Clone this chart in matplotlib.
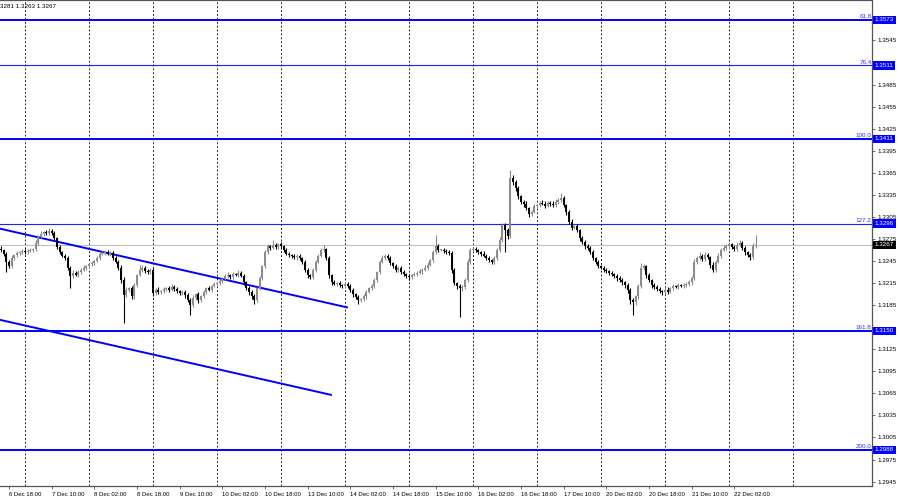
import numpy as np
import matplotlib.pyplot as plt
from matplotlib.transforms import blended_transform_factory

plt.rcParams['font.family'] = ['Liberation Sans', 'DejaVu Sans']

# hourly closes, 6 Dec 15:00 .. 22 Dec 10:00 (weekend hours skipped)
closes = [
    1.3260, 1.3255, 1.3244, 1.3238, 1.3249, 1.3253, 1.3256, 1.3257, 1.3259, 1.3257,
    1.3259, 1.3260, 1.3261, 1.3270, 1.3278, 1.3282, 1.3284, 1.3283, 1.3286, 1.3283,
    1.3276, 1.3264, 1.3257, 1.3252, 1.3249, 1.3236, 1.3225, 1.3229, 1.3226, 1.3230,
    1.3233, 1.3236, 1.3238, 1.3241, 1.3242, 1.3245, 1.3249, 1.3255, 1.3256, 1.3257,
    1.3255, 1.3256, 1.3249, 1.3244, 1.3236, 1.3219, 1.3199, 1.3206, 1.3208, 1.3197,
    1.3212, 1.3226, 1.3233, 1.3236, 1.3231, 1.3230, 1.3233, 1.3202, 1.3206, 1.3203,
    1.3204, 1.3207, 1.3208, 1.3206, 1.3210, 1.3207, 1.3204, 1.3202, 1.3203, 1.3199,
    1.3192, 1.3185, 1.3195, 1.3200, 1.3192, 1.3197, 1.3203, 1.3208, 1.3206, 1.3211,
    1.3214, 1.3215, 1.3218, 1.3221, 1.3225, 1.3226, 1.3223, 1.3227, 1.3226, 1.3229,
    1.3225, 1.3216, 1.3208, 1.3203, 1.3197, 1.3192, 1.3208, 1.3222, 1.3238, 1.3257,
    1.3265, 1.3263, 1.3267, 1.3264, 1.3268, 1.3265, 1.3260, 1.3255, 1.3253, 1.3252,
    1.3250, 1.3252, 1.3249, 1.3244, 1.3233, 1.3226, 1.3223, 1.3233, 1.3244, 1.3252,
    1.3260, 1.3261, 1.3249, 1.3226, 1.3216, 1.3214, 1.3215, 1.3212, 1.3211, 1.3214,
    1.3211, 1.3206, 1.3200, 1.3196, 1.3192, 1.3193, 1.3197, 1.3203, 1.3208, 1.3211,
    1.3219, 1.3230, 1.3244, 1.3249, 1.3252, 1.3249, 1.3242, 1.3238, 1.3233, 1.3236,
    1.3230, 1.3227, 1.3225, 1.3223, 1.3226, 1.3227, 1.3229, 1.3231, 1.3233, 1.3236,
    1.3240, 1.3246, 1.3257, 1.3265, 1.3260, 1.3260, 1.3259, 1.3257, 1.3256, 1.3233,
    1.3215, 1.3211, 1.3208, 1.3210, 1.3219, 1.3244, 1.3260, 1.3261, 1.3260, 1.3257,
    1.3255, 1.3252, 1.3249, 1.3246, 1.3244, 1.3249, 1.3260, 1.3274, 1.3294, 1.3287,
    1.3279, 1.3358, 1.3352, 1.3344, 1.3333, 1.3325, 1.3323, 1.3317, 1.3309, 1.3312,
    1.3320, 1.3321, 1.3324, 1.3323, 1.3320, 1.3324, 1.3323, 1.3321, 1.3325, 1.3328,
    1.3331, 1.3321, 1.3312, 1.3298, 1.3290, 1.3293, 1.3287, 1.3276, 1.3271, 1.3265,
    1.3263, 1.3257, 1.3249, 1.3244, 1.3238, 1.3236, 1.3233, 1.3231, 1.3229, 1.3227,
    1.3225, 1.3222, 1.3219, 1.3216, 1.3212, 1.3206, 1.3192, 1.3189, 1.3197, 1.3211,
    1.3236, 1.3238, 1.3226, 1.3219, 1.3212, 1.3210, 1.3207, 1.3204, 1.3203, 1.3206,
    1.3203, 1.3208, 1.3211, 1.3210, 1.3212, 1.3211, 1.3212, 1.3214, 1.3216, 1.3222,
    1.3244, 1.3249, 1.3252, 1.3248, 1.3253, 1.3250, 1.3240, 1.3233, 1.3244, 1.3252,
    1.3260, 1.3263, 1.3265, 1.3268, 1.3264, 1.3261, 1.3267, 1.3270, 1.3263, 1.3257,
    1.3253, 1.3250, 1.3265, 1.3267,
]
first_open = 1.3262

# wick lengths above / below the body, in pips
upper_wick = [
    3, 2, 2, 3, 4, 2, 3, 2, 3, 2,
    2, 3, 2, 4, 3, 4, 2, 3, 4, 2,
    3, 2, 3, 2, 2, 3, 2, 4, 2, 3,
    2, 3, 2, 2, 3, 2, 3, 2, 3, 2,
    3, 2, 2, 3, 2, 3, 4, 3, 2, 3,
    3, 2, 7, 3, 2, 3, 2, 3, 2, 3,
    2, 3, 2, 3, 4, 2, 3, 2, 2, 3,
    2, 3, 4, 2, 3, 2, 3, 2, 3, 2,
    3, 2, 3, 2, 3, 4, 2, 3, 2, 4,
    2, 3, 2, 3, 2, 3, 2, 3, 2, 3,
    3, 2, 7, 3, 2, 3, 2, 3, 2, 2,
    3, 2, 3, 2, 2, 3, 2, 3, 2, 3,
    3, 6, 2, 3, 2, 3, 2, 3, 2, 2,
    2, 3, 2, 2, 3, 2, 3, 2, 2, 3,
    3, 2, 3, 4, 3, 2, 3, 2, 3, 2,
    2, 3, 2, 3, 2, 3, 2, 3, 2, 3,
    3, 2, 3, 15, 3, 2, 3, 2, 3, 2,
    3, 2, 3, 2, 3, 4, 3, 2, 3, 2,
    2, 3, 2, 3, 2, 3, 3, 4, 3, 3,
    3, 11, 4, 3, 3, 2, 3, 3, 2, 3,
    3, 2, 3, 4, 3, 2, 3, 3, 4, 3,
    7, 3, 2, 3, 4, 3, 3, 2, 3, 2,
    3, 2, 3, 2, 3, 2, 2, 3, 2, 3,
    2, 3, 2, 3, 2, 3, 2, 3, 2, 3,
    6, 3, 2, 3, 2, 3, 2, 3, 2, 3,
    3, 2, 3, 2, 3, 2, 3, 2, 3, 3,
    4, 3, 5, 3, 4, 3, 2, 3, 3, 4,
    3, 4, 3, 3, 2, 3, 4, 3, 2, 3,
    2, 3, 4, 14,
]
lower_wick = [
    3, 3, 14, 3, 2, 3, 2, 3, 2, 3,
    3, 2, 3, 2, 3, 2, 3, 2, 3, 3,
    2, 3, 3, 2, 3, 3, 17, 3, 2, 3,
    3, 2, 3, 2, 3, 2, 2, 3, 2, 3,
    2, 3, 3, 2, 3, 4, 38, 3, 3, 4,
    3, 2, 2, 3, 2, 3, 2, 4, 3, 3,
    3, 2, 3, 3, 2, 3, 2, 3, 3, 4,
    3, 13, 3, 3, 4, 3, 2, 3, 2, 3,
    2, 3, 2, 3, 2, 3, 2, 3, 2, 3,
    2, 3, 3, 4, 3, 5, 3, 2, 3, 2,
    2, 3, 2, 3, 2, 3, 3, 2, 3, 3,
    2, 3, 2, 3, 3, 4, 3, 2, 3, 2,
    2, 3, 3, 4, 3, 2, 3, 2, 3, 3,
    3, 3, 4, 3, 5, 3, 2, 3, 2, 3,
    3, 2, 3, 2, 3, 2, 3, 2, 3, 3,
    3, 2, 3, 4, 3, 2, 3, 2, 3, 2,
    3, 2, 3, 2, 3, 2, 3, 2, 3, 4,
    3, 4, 39, 4, 3, 2, 3, 2, 3, 2,
    3, 2, 3, 2, 3, 3, 2, 3, 3, 30,
    4, 3, 3, 4, 3, 3, 4, 3, 4, 3,
    2, 3, 3, 2, 3, 2, 3, 3, 2, 3,
    3, 3, 4, 3, 3, 2, 3, 4, 3, 3,
    3, 3, 2, 3, 3, 2, 3, 2, 3, 3,
    3, 4, 3, 3, 4, 4, 5, 17, 4, 3,
    3, 3, 4, 3, 4, 3, 3, 3, 4, 3,
    3, 2, 3, 2, 3, 2, 3, 2, 3, 3,
    3, 3, 2, 3, 3, 2, 4, 3, 3, 2,
    3, 2, 3, 3, 2, 3, 3, 2, 3, 4,
    3, 3, 2, 2,
]

date_labels = ["6 Dec 18:00", "7 Dec 10:00", "8 Dec 02:00", "8 Dec 18:00", "9 Dec 10:00",
               "10 Dec 02:00", "10 Dec 18:00", "13 Dec 10:00", "14 Dec 02:00", "14 Dec 18:00",
               "15 Dec 10:00", "16 Dec 02:00", "16 Dec 18:00", "17 Dec 10:00", "20 Dec 02:00",
               "20 Dec 18:00", "21 Dec 10:00", "22 Dec 02:00"]
first_label_bar = 3
bars_per_label = 16

fib_names = ["61.8", "76.4", "100.0", "127.2", "161.8", "200.0"]
fib_prices = [1.3573, 1.3511, 1.3411, 1.3296, 1.3150, 1.2988]
last_price = 1.3267
header = "3281 1.3263 1.3267"

# trend channel, (bar, price) end points
upper_trend = [(-0.4, 1.3289), (129.7, 1.3182)]
lower_trend = [(-0.4, 1.3165), (123.7, 1.3063)]

n = len(closes)
opens = [first_open] + closes[:-1]
idx = np.arange(n)
o = np.array(opens)
c = np.array(closes)
hi = np.maximum(o, c) + np.array(upper_wick) * 0.0001
lo = np.minimum(o, c) - np.array(lower_wick) * 0.0001

fig = plt.figure(figsize=(9, 5), dpi=100)
ax = fig.add_axes([0, 14 / 500, 872 / 900, 486 / 500])
ax.set_xlim(-0.375, 326.6)
ax.set_ylim(1.2939, 1.3600)

# grid
for g in range(9, 300, 24):
    ax.axvline(g, color='#222222', lw=0.7, ls=(0, (2, 2)), zorder=0)

ax.axhline(last_price, color='#c0c0c0', lw=0.8, zorder=1)

# fibo levels
thin = {"76.4", "127.2"}
trans = blended_transform_factory(ax.transAxes, ax.transData)
for name, p in zip(fib_names, fib_prices):
    if name in thin:
        ax.axhline(p, color='#2020ff', lw=0.8, zorder=2)
    else:
        ax.axhline(p, color='#0000ff', lw=1.4, zorder=2)
    ax.text(0.9995, p + 0.0001, name, transform=trans, ha='right', va='bottom',
            fontsize=4.5, color='#3030ff')
    ax.text(1.003, p, "%.4f" % p, transform=trans, ha='left', va='center',
            fontsize=4.5, color='white', clip_on=False, zorder=10,
            bbox=dict(facecolor='#0000ff', edgecolor='none', pad=1.3))
ax.text(1.003, last_price, "%.4f" % last_price, transform=trans, ha='left', va='center',
        fontsize=4.5, color='white', clip_on=False, zorder=10,
        bbox=dict(facecolor='black', edgecolor='none', pad=1.3))

# trend lines
for line in (upper_trend, lower_trend):
    xs, ys = zip(*line)
    ax.plot(xs, ys, color='#0000ff', lw=1.4, zorder=3)

# candles
bull = c >= o
cols = np.where(bull, '#8c8c8c', '#000000')
ax.vlines(idx, lo, hi, colors=cols, lw=0.8, zorder=4)
body_h = np.maximum(np.abs(c - o), 0.00008)
ax.bar(idx, body_h, bottom=np.minimum(o, c), width=0.78, color=cols, zorder=5)

# axes look
ax.spines['left'].set_visible(False)
for s in ['top', 'right', 'bottom']:
    ax.spines[s].set_color('#555555')
    ax.spines[s].set_linewidth(0.9)

# price scale; labels hidden where a level box covers them
ticks = np.arange(1.2945, 1.3580, 0.003)
covered = fib_prices + [last_price]
tick_text = []
for v in ticks:
    near = min(abs(v - p) for p in covered)
    tick_text.append("" if near < 0.0007 and v > 1.3100 and abs(v - 1.3275) > 0.0001 else "%.4f" % v)
ax.yaxis.tick_right()
ax.set_yticks(ticks)
ax.set_yticklabels(tick_text)
ax.tick_params(axis='y', length=2.5, width=0.6, colors='#555555', labelcolor='black',
               labelsize=4.5, pad=1.5)

label_pos = [first_label_bar + bars_per_label * k for k in range(len(date_labels))]
ax.set_xticks(label_pos)
ax.set_xticklabels(date_labels, ha='left')
ax.tick_params(axis='x', length=2.5, width=0.6, colors='#555555', labelcolor='black',
               labelsize=4.3, pad=1.5)

fig.text(0.0, 1 - 6 / 500, header, fontsize=4.5, va='center', ha='left')

fig.savefig("out.png", dpi=100)
